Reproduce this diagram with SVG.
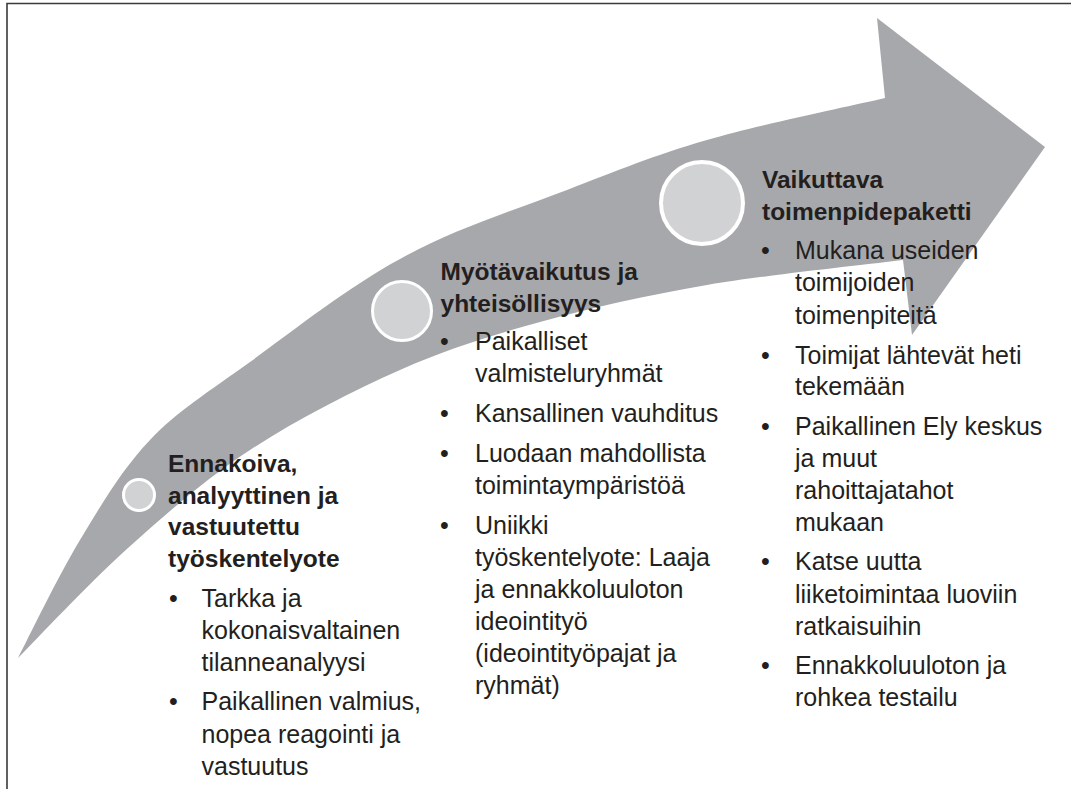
<svg xmlns="http://www.w3.org/2000/svg" width="1071" height="789" viewBox="0 0 1071 789">
<style>
.frame{fill:none;stroke:#3a3a3a;stroke-width:1.6}
.arrow{fill:#a7a8ab}
.dot{fill:#d1d2d4;stroke:#ffffff}
text{font-family:"Liberation Sans",Arial,Helvetica,sans-serif;fill:#231f20}
.h{font-size:24.5px;font-weight:bold}
.t{font-size:25px}
</style>
<rect width="1071" height="789" fill="#ffffff"/>
<path class="frame" d="M7,789 V3.5 H1071"/>
<g id="arrow">
<path class="arrow" d="M18,658 C28.3,638.3 58,576.3 80,540 C102,503.7 121.7,469.7 150,440 C178.3,410.3 208.3,392.2 250,362 C291.7,331.8 347.2,287.7 400,259 C452.8,229.3 515.8,209.8 567,190 C618.2,170.2 654,155.3 707,140 C760,124.7 855.3,105 885,98 L877,18 L1045,147 L912,335 L903,260 C870.3,264.2 767.5,274.7 707,285 C646.5,295.3 591.2,307.8 540,322 C488.8,336.2 448.3,348.7 400,370 C351.7,391.3 295.3,420.3 250,450 C204.7,479.7 166.7,513.3 128,548 C89.3,582.7 36.3,639.7 18,658 Z"/>
</g>
<g id="node1">
<circle class="dot" cx="139" cy="495" r="15.5" stroke-width="3"/>
<text class="h" x="168" y="472">Ennakoiva,</text>
<text class="h" x="168" y="503.5">analyyttinen ja</text>
<text class="h" x="168" y="535">vastuutettu</text>
<text class="h" x="168" y="566.5">työskentelyote</text>
<text class="t" x="169" y="607">•</text>
<text class="t" x="201.5" y="607">Tarkka ja</text>
<text class="t" x="201.5" y="639">kokonaisvaltainen</text>
<text class="t" x="201.5" y="671">tilanneanalyysi</text>
<text class="t" x="169" y="710">•</text>
<text class="t" x="201.5" y="710">Paikallinen valmius,</text>
<text class="t" x="201.5" y="742.5">nopea reagointi ja</text>
<text class="t" x="201.5" y="775">vastuutus</text>
</g>
<g id="node2">
<circle class="dot" cx="402" cy="311" r="29.5" stroke-width="3"/>
<text class="h" x="440.5" y="280">Myötävaikutus ja</text>
<text class="h" x="440.5" y="311.5">yhteisöllisyys</text>
<text class="t" x="440" y="350">•</text>
<text class="t" x="475" y="350">Paikalliset</text>
<text class="t" x="475" y="382">valmisteluryhmät</text>
<text class="t" x="440" y="422">•</text>
<text class="t" x="475" y="422">Kansallinen vauhditus</text>
<text class="t" x="440" y="461.5">•</text>
<text class="t" x="475" y="461.5">Luodaan mahdollista</text>
<text class="t" x="475" y="493.5">toimintaympäristöä</text>
<text class="t" x="440" y="533.5">•</text>
<text class="t" x="475" y="533.5">Uniikki</text>
<text class="t" x="475" y="565.5">työskentelyote: Laaja</text>
<text class="t" x="475" y="597.5">ja ennakkoluuloton</text>
<text class="t" x="475" y="629.5">ideointityö</text>
<text class="t" x="475" y="662">(ideointityöpajat ja</text>
<text class="t" x="475" y="694">ryhmät)</text>
</g>
<g id="node3">
<circle class="dot" cx="702" cy="203" r="41" stroke-width="4"/>
<text class="h" x="762" y="188">Vaikuttava</text>
<text class="h" x="762" y="219.5">toimenpidepaketti</text>
<text class="t" x="761" y="258.5">•</text>
<text class="t" x="795" y="258.5">Mukana useiden</text>
<text class="t" x="795" y="291">toimijoiden</text>
<text class="t" x="795" y="323.5">toimenpiteitä</text>
<text class="t" x="761" y="363.5">•</text>
<text class="t" x="795" y="363.5">Toimijat lähtevät heti</text>
<text class="t" x="795" y="395">tekemään</text>
<text class="t" x="761" y="434.5">•</text>
<text class="t" x="795" y="434.5">Paikallinen Ely keskus</text>
<text class="t" x="795" y="466.5">ja muut</text>
<text class="t" x="795" y="498.5">rahoittajatahot</text>
<text class="t" x="795" y="531">mukaan</text>
<text class="t" x="761" y="570">•</text>
<text class="t" x="795" y="570">Katse uutta</text>
<text class="t" x="795" y="602.5">liiketoimintaa luoviin</text>
<text class="t" x="795" y="634.5">ratkaisuihin</text>
<text class="t" x="761" y="674">•</text>
<text class="t" x="795" y="674">Ennakkoluuloton ja</text>
<text class="t" x="795" y="706">rohkea testailu</text>
</g>
</svg>
